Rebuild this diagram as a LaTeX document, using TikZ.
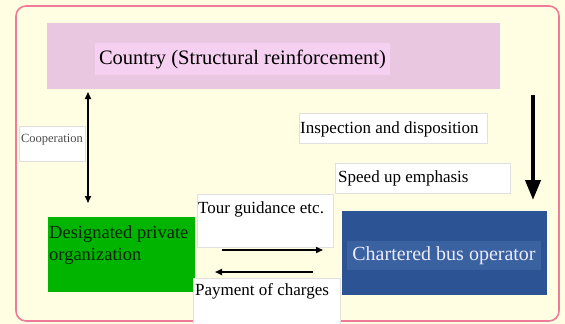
\documentclass[tikz,border=0pt]{standalone}
\usepackage{fontspec}
\setmainfont{Liberation Serif}
\usetikzlibrary{arrows.meta}

\definecolor{cream}{HTML}{FFFDE2}
\definecolor{framepink}{HTML}{EE7C98}
\definecolor{countrypink}{HTML}{E9C7E1}
\definecolor{labelpink}{HTML}{F6D0F0}
\definecolor{orggreen}{HTML}{00B400}
\definecolor{busblue}{HTML}{2C5494}
\definecolor{busband}{HTML}{3A62A0}

\begin{document}
\begin{tikzpicture}[x=1pt,y=-1pt,
			box/.style = {rectangle, inner sep=0pt, outer sep=0pt},
			labelbox/.style = {rectangle, fill=white, draw=black!12, inner sep=0pt},
			boxtext/.style = {anchor=base west, inner sep=0pt, align=left, font=\fontsize{17}{22}\selectfont},
			link/.style = {line width=1.6pt, -{Triangle[length=7pt,width=6pt]}}]

\fill[cream] (0,0) rectangle (565,324);
\useasboundingbox (0,0) rectangle (565,324);
\draw[framepink, line width=1.6pt, rounded corners=10pt] (16,6) rectangle (559,321);

\node[box, fill=countrypink, minimum width=453pt, minimum height=66pt] (country) at (273.5,56) {};
\node[box, fill=labelpink, minimum width=295pt, minimum height=32pt, font=\fontsize{20.5}{22}\selectfont] (countrytext) at (242.5,59) {Country (Structural reinforcement)};

\node[labelbox, minimum width=66pt, minimum height=35pt] (coop) at (52,143.5) {};
\node[anchor=base, font=\fontsize{12.5}{14}\selectfont, inner sep=0pt, text=black!70] (cooptext) at (52,142) {Cooperation};

\node[box, fill=orggreen, minimum width=147pt, minimum height=75pt] (org) at (121.5,254.5) {};
\node[boxtext, font=\fontsize{18.5}{22}\selectfont, text=black!85!green] (orgtext) at (49,260) {Designated private\\organization};

\node[labelbox, minimum width=136pt, minimum height=53pt] (tour) at (265,220.5) {};
\node[boxtext] (tourtext) at (198,213) {Tour guidance etc.};

\node[labelbox, minimum width=147pt, minimum height=48pt] (pay) at (266.5,302) {};
\node[boxtext] (paytext) at (195,295) {Payment of charges};

\node[labelbox, minimum width=188pt, minimum height=30pt] (insp) at (393,128) {};
\node[boxtext] (insptext) at (300,133) {Inspection and disposition};

\node[labelbox, minimum width=175pt, minimum height=30pt] (speed) at (422.5,178) {};
\node[boxtext] (speedtext) at (338,182) {Speed up emphasis};

\node[box, fill=busblue, minimum width=205pt, minimum height=84pt] (bus) at (444.5,253) {};
\node[box, fill=busband, minimum width=194pt, minimum height=29pt, text=white!92!blue, font=\fontsize{20}{22}\selectfont] (bustext) at (444,255.5) {Chartered bus operator};

\coordinate (coopup) at (88,92);
\coordinate (coopdown) at (88,203);
\coordinate (inspstart) at (533,95);
\coordinate (inspend) at (533,200);
\coordinate (tourstart) at (222,250);
\coordinate (tourend) at (323,250);
\coordinate (paystart) at (313,272);
\coordinate (payend) at (215,272);

\draw[link, {Triangle[length=7pt,width=6pt]}-{Triangle[length=7pt,width=6pt]}] (coopup) -- (coopdown);
\draw[line width=4pt, -{Triangle[length=20pt,width=15pt]}] (inspstart) -- (inspend);
\draw[link] (tourstart) -- (tourend);
\draw[link] (paystart) -- (payend);

\end{tikzpicture}
\end{document}
